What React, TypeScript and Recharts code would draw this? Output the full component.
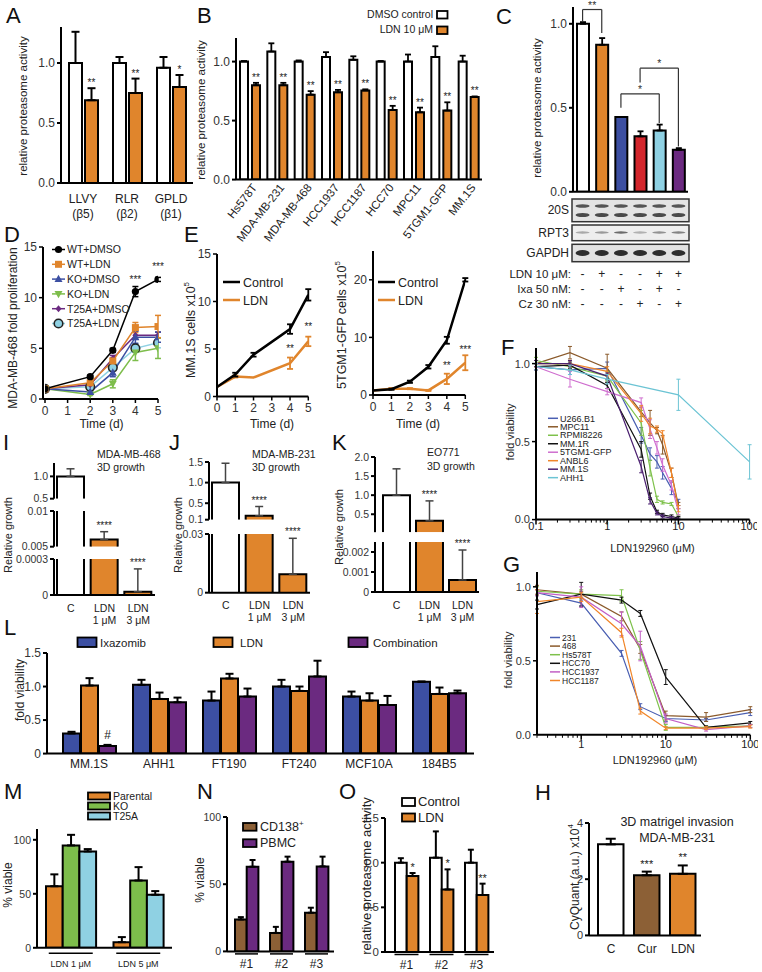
import React from "react";
import {
  BarChart,
  Bar,
  LineChart,
  Line,
  XAxis,
  YAxis,
  ErrorBar,
  LabelList,
  Cell,
  ReferenceLine,
} from "recharts";

const FONT = '"Liberation Sans", Arial, Helvetica, sans-serif';
const INK = "#222";
const ORANGE = "#e0852c";
const BLUE = "#3c4fa2";
const PURPLE = "#6b2a80";
const GREEN = "#7dbd4b";
const LBLUE = "#8fd1e3";
const BROWN = "#8c6036";
const RED = "#d3262c";
const AX = { stroke: "#000", strokeWidth: 2 };

// ---------- A ----------
const A_CATS = ["LLVY", "RLR", "GPLD"];
const A_SUB = ["(β5)", "(β2)", "(β1)"];
const A_DMSO = [1.0, 1.0, 0.96];
const A_DMSO_ERR = [0.26, 0.05, 0.09];
const A_LDN = [0.69, 0.75, 0.8];
const A_LDN_ERR = [0.1, 0.12, 0.1];
const A_SIG = ["**", "**", "*"];

// ---------- B ----------
const B_CATS = ["Hs578T", "MDA-MB-231", "MDA-MB-468", "HCC1937", "HCC1187", "HCC70", "MPC11", "5TGM1-GFP", "MM.1S"];
const B_DMSO = [1.0, 1.085, 1.0, 1.04, 1.015, 1.0, 1.0, 1.04, 1.0];
const B_DMSO_ERR = [0.005, 0.07, 0.01, 0.04, 0.03, 0.005, 0.06, 0.09, 0.05];
const B_LDN = [0.8, 0.8, 0.72, 0.74, 0.755, 0.59, 0.57, 0.585, 0.7];
const B_LDN_ERR = [0.02, 0.02, 0.03, 0.02, 0.01, 0.035, 0.04, 0.07, 0.005];
const B_SIG = ["**", "**", "**", "**", "**", "**", "**", "**", "**"];

// ---------- C ----------
const C_CATS = ["Ctrl", "LDN", "Ixa", "Cz", "LDN+Ixa", "LDN+Cz"];
const C_VALS = [1.0, 0.875, 0.445, 0.33, 0.365, 0.25];
const C_ERR = [0.01, 0.04, 0, 0.03, 0.035, 0.01];
const C_COLORS = ["#ffffff", ORANGE, BLUE, RED, LBLUE, PURPLE];
const C_LDN = ["-", "+", "-", "-", "+", "+"];
const C_IXA = ["-", "-", "+", "-", "+", "-"];
const C_CZ = ["-", "-", "-", "+", "-", "+"];
const C_BRACKETS = [
  { a: "Ctrl", b: "LDN", y: 1.085, ya: 1.01, yb: 0.945, sig: "**" },
  { a: "Cz", b: "LDN+Cz", y: 0.736, ya: 0.65, yb: 0.27, sig: "*" },
  { a: "Ixa", b: "LDN+Ixa", y: 0.583, ya: 0.5, yb: 0.41, sig: "*" },
];

// ---------- D ----------
const D_DAYS = [0, 2, 3, 4, 5];
const D_NAMES = ["WT+DMSO", "WT+LDN", "KO+DMSO", "KO+LDN", "T25A+DMSO", "T25A+LDN"];
const D_WT_DMSO = [1.0, 2.2, 4.8, 10.6, 11.8];
const D_WT_DMSO_ERR = [0, 0.15, 0.2, 0.5, 0.2];
const D_WT_LDN = [1.0, 1.6, 3.75, 7.05, 7.15];
const D_WT_LDN_ERR = [0, 0.2, 0.3, 0.5, 1.1];
const D_KO_DMSO = [1.0, 0.7, 2.6, 6.1, 6.1];
const D_KO_DMSO_ERR = [0, 0.1, 0.4, 0.6, 0.5];
const D_KO_LDN = [1.0, 0.45, 1.5, 4.6, 5.0];
const D_KO_LDN_ERR = [0, 0.1, 0.4, 0.8, 1.0];
const D_T25A_DMSO = [1.0, 1.4, 4.0, 6.3, 6.3];
const D_T25A_DMSO_ERR = [0, 0.1, 0.3, 0.4, 0.3];
const D_T25A_LDN = [1.0, 1.2, 3.1, 5.0, 5.55];
const D_T25A_LDN_ERR = [0, 0.1, 0.2, 0.4, 0.5];
const D_SIG = ["", "", "", "***", "***"];

// ---------- E ----------
const E1_DAYS = [0, 1, 2, 4, 5];
const E1_CTRL = [1.0, 2.3, 4.4, 7.1, 10.7];
const E1_CTRL_ERR = [0, 0.2, 0.2, 0.5, 0.6];
const E1_LDN = [1.0, 2.1, 2.0, 3.5, 5.8];
const E1_LDN_ERR = [0, 0.1, 0, 0.6, 0.5];
const E1_SIG = ["", "", "", "**", "**"];
const E2_DAYS = [0, 1, 2, 3, 4, 5];
const E2_CTRL = [0.8, 1.0, 2.3, 4.9, 9.5, 20.0];
const E2_CTRL_ERR = [0, 0.1, 0.2, 0.3, 0.6, 0.3];
const E2_LDN = [0.8, 1.1, 1.1, 0.8, 2.8, 5.6];
const E2_LDN_ERR = [0, 0.1, 0.1, 0.1, 0.9, 1.3];
const E2_SIG = ["", "", "", "", "**", "***"];

// ---------- F ----------
const F_DOSES = [0.1, 0.3, 1, 3, 4, 5, 6, 8, 10, 100];
const F_NAMES = ["U266.B1", "MPC11", "RPMI8226", "MM.1R", "5TGM1-GFP", "ANBL6", "MM.1S", "AHH1"];
const F_U266 = [0.98, 0.96, 0.97, 0.54, 0.42, 0.37, 0.3, 0.2, 0.11, null];
const F_U266_ERR = [0.02, 0.03, 0.04, 0.05, 0.04, 0.04, 0.04, 0.04, 0.02, null];
const F_MPC11 = [1.0, 1.07, 0.97, 0.69, 0.62, 0.57, 0.48, 0.3, 0.09, null];
const F_MPC11_ERR = [0.02, 0.04, 0.09, 0.03, 0.08, 0.02, 0.06, 0.03, 0.02, null];
const F_RPMI = [1.02, 0.98, 0.92, 0.62, 0.33, 0.13, 0.11, 0.1, 0.02, null];
const F_RPMI_ERR = [0.02, 0.02, 0.03, 0.08, 0.05, 0.02, 0.01, 0.01, 0.01, null];
const F_MM1R = [0.98, 0.99, 0.86, 0.45, 0.15, 0.05, 0.03, 0.02, 0.01, null];
const F_MM1R_ERR = [0.02, 0.02, 0.02, 0.05, 0.02, 0.01, 0.01, 0.01, 0.01, null];
const F_5TGM1 = [0.98, 0.9, 0.82, 0.75, 0.58, 0.46, 0.35, 0.22, 0.05, null];
const F_5TGM1_ERR = [0.02, 0.05, 0.02, 0.03, 0.06, 0.04, 0.04, 0.03, 0.02, null];
const F_ANBL6 = [1.0, 1.0, 0.95, 0.68, 0.6, 0.58, 0.55, 0.3, 0.07, null];
const F_ANBL6_ERR = [0.02, 0.02, 0.03, 0.05, 0.05, 0.02, 0.02, 0.03, 0.02, null];
const F_MM1S = [1.0, 1.0, 0.92, 0.34, 0.12, 0.04, 0.02, 0.01, 0.005, null];
const F_MM1S_ERR = [0.02, 0.02, 0.02, 0.04, 0.02, 0.01, 0.01, 0.01, 0.005, null];
const F_AHH1 = [0.98, 0.96, 0.9, null, null, null, null, null, 0.8, 0.37];
const F_AHH1_ERR = [0.02, 0.03, 0.03, null, null, null, null, null, 0.1, 0.11];

// ---------- G ----------
const G_DOSES = [0.3, 1, 3, 5, 10, 30, 100];
const G_NAMES = ["231", "468", "Hs578T", "HCC70", "HCC1937", "HCC1187"];
const G_231 = [0.96, 0.89, 0.55, 0.19, 0.11, 0.1, 0.15];
const G_231_ERR = [0.02, 0.02, 0.02, 0.02, 0.02, 0.01, 0.02];
const G_468 = [0.98, 0.95, 0.8, 0.58, 0.13, 0.12, 0.17];
const G_468_ERR = [0.03, 0.02, 0.03, 0.03, 0.03, 0.03, 0.02];
const G_HS578T = [0.97, 0.95, 0.94, 0.57, 0.05, 0.05, 0.06];
const G_HS578T_ERR = [0.03, 0.03, 0.04, 0.06, 0.02, 0.01, 0.01];
const G_HCC70 = [0.88, 0.95, 0.91, 0.82, 0.39, 0.05, 0.08];
const G_HCC70_ERR = [0.03, 0.08, 0.02, 0.02, 0.05, 0.01, 0.01];
const G_HCC1937 = [0.96, 0.93, 0.75, 0.6, 0.11, 0.035, 0.06];
const G_HCC1937_ERR = [0.02, 0.07, 0.08, 0.1, 0.03, 0.01, 0.01];
const G_HCC1187 = [0.9, 0.93, 0.69, 0.16, 0.045, 0.045, 0.055];
const G_HCC1187_ERR = [0.08, 0.03, 0.03, 0.02, 0.01, 0.01, 0.01];

// ---------- I / J / K (3D growth, broken axes) ----------
const IJK_CATS = ["C", "LDN 1 μM", "LDN 3 μM"];
const IJK_COLORS = ["#ffffff", ORANGE, ORANGE];
const IJK_SIG = ["", "****", "****"];
const I_VALS = [1.0, 0.006, 0.0000275];
const I_ERR = [0.17, 0.0011, 0.00019];
const J_VALS = [1.0, 0.195, 0.0094];
const J_ERR = [0.47, 0.225, 0.0184];
const K_VALS = [1.0, 0.33, 0.0006];
const K_ERR = [0.69, 0.52, 0.0015];

// ---------- L ----------
const L_CATS = ["MM.1S", "AHH1", "FT190", "FT240", "MCF10A", "184B5"];
const L_IXA = [0.3, 1.025, 0.79, 1.0, 0.85, 1.07];
const L_IXA_ERR = [0.025, 0.075, 0.135, 0.1, 0.075, 0.005];
const L_LDN = [1.015, 0.815, 1.12, 0.935, 0.79, 0.89];
const L_LDN_ERR = [0.11, 0.095, 0.07, 0.065, 0.11, 0.095];
const L_COMBO = [0.115, 0.765, 0.85, 1.15, 0.725, 0.9];
const L_COMBO_ERR = [0.015, 0.07, 0.12, 0.235, 0.135, 0.04];
const L_SIG = ["#", "", "", "", "", ""];

// ---------- M ----------
const M_CATS = ["LDN 1 μM", "LDN 5 μM"];
const M_PARENTAL = [57, 5.2];
const M_PARENTAL_ERR = [11, 4.7];
const M_KO = [94.8, 62.3];
const M_KO_ERR = [9.8, 12.4];
const M_T25A = [89.2, 49.1];
const M_T25A_ERR = [2.2, 3.4];

// ---------- N ----------
const N_CATS = ["#1", "#2", "#3"];
const N_CD138 = [23.75, 13.75, 28.75];
const N_CD138_ERR = [1.75, 4.5, 3.75];
const N_PBMC = [63, 66.75, 63.25];
const N_PBMC_ERR = [5, 3.75, 7.25];

// ---------- O ----------
const O_CATS = ["#1", "#2", "#3"];
const O_CTRL = [1.0, 1.056, 1.0];
const O_CTRL_ERR = [0.05, 0.294, 0.145];
const O_LDN = [0.85, 0.7, 0.638];
const O_LDN_ERR = [0.034, 0.225, 0.127];
const O_SIG = ["*", "*", "**"];

// ---------- H ----------
const H_CATS = ["C", "Cur", "LDN"];
const H_VALS = [3.24, 2.14, 2.19];
const H_ERR = [0.2, 0.13, 0.3];
const H_COLORS = ["#ffffff", BROWN, ORANGE];
const H_SIG = ["", "***", "**"];

// ---------- helpers ----------
const up = (e: number | null | undefined) => (e ? [0, e] : undefined);
const f1 = (v: number) => v.toFixed(1);
const f1z = (v: number) => (v === 0 ? "0" : v.toFixed(1));
const plain = (v: number) => String(v);

function frame(x0: number, x1: number, y0: number, y1: number, W: number, H: number, mt: number, mr: number, mb = 0) {
  return {
    style: { position: "absolute", left: x0 - W, top: y0 - mt } as React.CSSProperties,
    width: x1 - x0 + W + mr,
    height: y1 - y0 + mt + H + mb,
    margin: { top: mt, right: mr, bottom: mb, left: 0 },
  };
}

function sigContent(valueKey: string, errKey: string | undefined, sigKey: string, dmin: number, fs: number, gap: number) {
  return (props: any) => {
    const p = props.value;
    if (!p || typeof p !== "object" || !p[sigKey]) return null;
    const vb = props.viewBox && props.viewBox.width != null ? props.viewBox : props;
    let y = Number(vb.y);
    let h = Number(vb.height);
    const x = Number(vb.x);
    const w = Number(vb.width);
    if (h < 0) {
      y += h;
      h = -h;
    }
    const v = p[valueKey];
    const e = errKey && p[errKey] ? p[errKey][1] : 0;
    const ppu = v - dmin > 0 ? h / (v - dmin) : 0;
    return (
      <text x={x + w / 2} y={y - e * ppu - gap} textAnchor="middle" fontSize={fs} fill={INK}>
        {p[sigKey]}
      </text>
    );
  };
}

const lineSig = (off: number) => (props: any) => {
  const p = props.value;
  if (!p || typeof p !== "object" || !p.sig) return null;
  const vb = props.viewBox || {};
  const x = vb.x ?? props.x;
  const y = vb.y ?? props.y;
  return (
    <text x={x} y={y - off} textAnchor="middle" fontSize={10} fill={INK}>
      {p.sig}
    </text>
  );
};

// bar outline without the bottom edge, for the broken axes
const OpenBar = (props: any) => {
  const { x, y, width: w, height: h, fill } = props;
  if (!(h > 0)) return <g />;
  return (
    <g>
      <rect x={x} y={y} width={w} height={h} fill={fill} />
      <path d={`M${x},${y + h}V${y}H${x + w}V${y + h}`} fill="none" stroke="#000" strokeWidth={2} />
    </g>
  );
};

function marker(kind: string, color: string, cx: number, cy: number) {
  switch (kind) {
    case "square":
      return <rect x={cx - 3.5} y={cy - 3.5} width={7} height={7} fill={color} />;
    case "tri":
      return <path d={`M${cx},${cy - 4.3}L${cx + 4},${cy + 3}L${cx - 4},${cy + 3}Z`} fill={color} />;
    case "itri":
      return <path d={`M${cx},${cy + 4.3}L${cx + 4},${cy - 3}L${cx - 4},${cy - 3}Z`} fill={color} />;
    case "diamond":
      return <path d={`M${cx},${cy - 3.5}L${cx + 3},${cy}L${cx},${cy + 3.5}L${cx - 3},${cy}Z`} fill={color} />;
    case "ring":
      return <circle cx={cx} cy={cy} r={4.3} fill={color} stroke="#222" strokeWidth={1.6} />;
    default:
      return <circle cx={cx} cy={cy} r={3.6} fill={color} />;
  }
}
const dotFn = (kind: string, color: string) => (props: any) => {
  const { cx, cy, index } = props;
  if (cx == null || cy == null) return <g key={index} />;
  return <g key={index}>{marker(kind, color, cx, cy)}</g>;
};

// ---------- ticks ----------
const twoLineTick = (subs: Record<string, string>, d1: number, d2: number, fs: number) => (props: any) => {
  const { x, y, payload } = props;
  const v = String(payload.value);
  return (
    <g>
      <text x={x} y={y + d1} textAnchor="middle" fontSize={fs} fill={INK}>{v}</text>
      {subs[v] ? <text x={x} y={y + d2} textAnchor="middle" fontSize={fs} fill={INK}>{subs[v]}</text> : null}
    </g>
  );
};
const splitTick = (d1: number, d2: number, fs: number) => (props: any) => {
  const { x, y, payload } = props;
  const parts = String(payload.value).split(" ");
  return (
    <g>
      <text x={x} y={y + d1} textAnchor="middle" fontSize={fs} fill={INK}>{parts[0]}</text>
      {parts.length > 1 ? (
        <text x={x} y={y + d2} textAnchor="middle" fontSize={fs} fill={INK}>{parts.slice(1).join(" ")}</text>
      ) : null}
    </g>
  );
};
const rotTick = (props: any) => {
  const { x, y, payload } = props;
  return (
    <text transform={`translate(${x + 8},${y + 8}) rotate(-52)`} textAnchor="end" fontSize={11.5} fill={INK}>
      {payload.value}
    </text>
  );
};
const underTick = (half: number, lineDy: number, textDy: number, fs: number) => (props: any) => {
  const { x, y, payload } = props;
  return (
    <g>
      <line x1={x - half} x2={x + half} y1={y + lineDy} y2={y + lineDy} stroke="#000" strokeWidth={1.5} />
      <text x={x} y={y + textDy} textAnchor="middle" fontSize={fs} fill={INK}>{payload.value}</text>
    </g>
  );
};
const plainTick = (dy: number, fs: number) => (props: any) => {
  const { x, y, payload } = props;
  return <text x={x} y={y + dy} textAnchor="middle" fontSize={fs} fill={INK}>{payload.value}</text>;
};
const logTick = (labelDy: number) => (props: any) => {
  const { x, y, payload } = props;
  const v = payload.value;
  const lg = Math.log10(v);
  const major = Math.abs(lg - Math.round(lg)) < 1e-6;
  const ay = y - 8;
  return (
    <g>
      <line x1={x} x2={x} y1={ay} y2={ay + (major ? 5 : 3)} stroke="#000" strokeWidth={major ? 1.5 : 1} />
      {major ? <text x={x} y={ay + labelDy} textAnchor="middle" fontSize={11} fill={INK}>{v}</text> : null}
    </g>
  );
};
const logTicks = (from: number) => {
  const out: number[] = [];
  [0.1, 1, 10].forEach((dec) => {
    for (let k = 1; k <= 9; k++) {
      const t = +(dec * k).toPrecision(3);
      if (t >= from - 1e-9) out.push(t);
    }
  });
  out.push(100);
  return out;
};

// ---------- generic panels ----------
function BarPanel(p: any) {
  const {
    data, series, x0, x1, y0, y1, domain, ticks, fmt = f1, W = 36, H = 24, mt = 8, mr = 6, mb = 0, padLeft = 0,
    barSize, barGap = 0, xTick, xMode = "tick", open = false, tickFs = 12, errW = 4, errSW = 2,
    errStroke = "#000", sigFs = 10, sigGap = 2, children,
  } = p;
  const hh = xMode === "hide" ? 0 : H;
  const f = frame(x0, x1, y0, y1, W, hh, mt, mr, mb);
  const pad = { left: padLeft, right: 0 };
  return (
    <div style={f.style}>
      <BarChart width={f.width} height={f.height} margin={f.margin} data={data} barGap={barGap}>
        {xMode === "hide" ? (
          <XAxis dataKey="name" hide height={0} padding={pad} />
        ) : xMode === "line" ? (
          <XAxis dataKey="name" height={hh} tick={false} tickLine={false} axisLine={AX} padding={pad} />
        ) : (
          <XAxis dataKey="name" height={hh} axisLine={AX} tickLine={false} tickSize={0} tickMargin={0}
            interval={0} tick={xTick} padding={pad} />
        )}
        <YAxis width={W} domain={domain} ticks={ticks} tickFormatter={fmt} allowDataOverflow interval={0}
          axisLine={AX} tickLine={AX} tickSize={4} tickMargin={2}
          tick={{ fontSize: tickFs, fill: "#333", fontFamily: FONT }} />
        {series.map((s: any) => (
          <Bar key={s.key} dataKey={s.key} fill={s.fill} stroke="#000" strokeWidth={2} barSize={barSize}
            isAnimationActive={false} shape={open ? OpenBar : undefined}>
            {s.cells ? data.map((_: any, i: number) => <Cell key={i} fill={s.cells[i]} />) : null}
            {s.err ? <ErrorBar dataKey={s.err} width={errW} strokeWidth={errSW} stroke={errStroke} direction="y" /> : null}
            {s.sig ? (
              <LabelList dataKey={(d: any) => d}
                content={sigContent(s.key, s.err, s.sig, domain[0], s.sigFs || sigFs, s.sigGap ?? sigGap)} />
            ) : null}
          </Bar>
        ))}
        {children}
      </BarChart>
    </div>
  );
}

function LinePanel(p: any) {
  const {
    series, x0, x1, y0, y1, xDomain, xTicks, yDomain, yTicks, yFmt = plain, log = false, W = 30, H = 26,
    mt = 6, mr = 8, padLeft = 0, tickFs = 12, xTick, errW = 3,
  } = p;
  const f = frame(x0, x1, y0, y1, W, H, mt, mr);
  const xProps = xTick
    ? { tick: xTick, tickLine: false, tickSize: 6, tickMargin: 2 }
    : { tickLine: { stroke: "#000", strokeWidth: 1.5 }, tickSize: 4, tickMargin: 3, tick: { fontSize: tickFs, fill: "#333" } };
  return (
    <div style={f.style}>
      <LineChart width={f.width} height={f.height} margin={f.margin}>
        <XAxis dataKey="x" type="number" scale={log ? "log" : "auto"} domain={xDomain} ticks={xTicks}
          allowDataOverflow interval={0} height={H} axisLine={AX} padding={{ left: padLeft, right: 0 }} {...xProps} />
        <YAxis width={W} domain={yDomain} ticks={yTicks} tickFormatter={yFmt} interval={0} allowDataOverflow
          axisLine={AX} tickLine={{ stroke: "#000", strokeWidth: 1.5 }} tickSize={4} tickMargin={2}
          tick={{ fontSize: tickFs, fill: "#333" }} />
        {series.map((s: any) => (
          <Line key={s.name} name={s.name} data={s.data} dataKey="v" stroke={s.color} strokeWidth={s.width}
            dot={s.dot || false} activeDot={false} isAnimationActive={false} connectNulls>
            <ErrorBar dataKey="e" width={errW} strokeWidth={s.errSW || 1.2} stroke={s.color} direction="y" />
            {s.sig ? <LabelList dataKey={(d: any) => d} content={lineSig(s.sigOff || 10)} /> : null}
          </Line>
        ))}
      </LineChart>
    </div>
  );
}

const pts = (xs: number[], vs: (number | null)[], es: (number | null)[], sig?: string[]) =>
  xs
    .map((x, i) => ({ x, v: vs[i], e: es[i] || undefined, sig: sig ? sig[i] : "" }))
    .filter((d) => d.v != null);

function segData(vals: number[], errs: number[], dom: number[]) {
  return IJK_CATS.map((name, i) => {
    const inside = vals[i] >= dom[0] && vals[i] <= dom[1];
    return { name, v: vals[i], e: inside ? up(errs[i]) : undefined, sig: inside ? IJK_SIG[i] : "" };
  });
}

function BrokenPanel({ vals, errs, segs, x0, x1, padLeft }: any) {
  return (
    <>
      {segs.map((s: any, k: number) => {
        const last = k === segs.length - 1;
        return (
          <BarPanel key={k} data={segData(vals, errs, s.dom)}
            series={[{ key: "v", err: "e", fill: "#fff", cells: IJK_COLORS, sig: "sig" }]}
            x0={x0} x1={x1} y0={s.y0} y1={s.y1} domain={s.dom} ticks={s.ticks} fmt={s.fmt}
            W={40} H={36} mt={14} mr={4} mb={last ? 0 : 7} padLeft={padLeft} barSize={27}
            xMode={last ? "tick" : "hide"} xTick={splitTick(16.8, 28.8, 10.5)} open
            tickFs={10.5} errW={4} errSW={1.5} errStroke="#444" sigFs={10} sigGap={3} />
        );
      })}
    </>
  );
}

// ---------- overlay helpers ----------
const T = ({ x, y, s = 12, a = "start", c = INK, children }: any) => (
  <text x={x} y={y} fontSize={s} textAnchor={a} fill={c}>{children}</text>
);
const R = ({ x, y, s = 12, children }: any) => (
  <text transform={`translate(${x},${y}) rotate(-90)`} fontSize={s} textAnchor="middle" dominantBaseline="central" fill={INK}>
    {children}
  </text>
);
const Sw = ({ x, y, w, h, fill }: any) => <rect x={x} y={y} width={w} height={h} fill={fill} stroke="#000" strokeWidth={1.8} />;

// ---------- layout constants ----------
const C_X0 = 573;
const C_X1 = 688;

export default function App() {
  const aData = A_CATS.map((name, i) => ({
    name, dmso: A_DMSO[i], dmsoE: up(A_DMSO_ERR[i]), ldn: A_LDN[i], ldnE: up(A_LDN_ERR[i]), sig: A_SIG[i],
  }));
  const aSubs: Record<string, string> = {};
  A_CATS.forEach((c, i) => (aSubs[c] = A_SUB[i]));
  const bData = B_CATS.map((name, i) => ({
    name, dmso: B_DMSO[i], dmsoE: up(B_DMSO_ERR[i]), ldn: B_LDN[i], ldnE: up(B_LDN_ERR[i]), sig: B_SIG[i],
  }));
  const cData = C_CATS.map((name, i) => ({ name, v: C_VALS[i], e: up(C_ERR[i]) }));
  const lData = L_CATS.map((name, i) => ({
    name, ixa: L_IXA[i], ixaE: up(L_IXA_ERR[i]), ldn: L_LDN[i], ldnE: up(L_LDN_ERR[i]),
    combo: L_COMBO[i], comboE: up(L_COMBO_ERR[i]), sig: L_SIG[i],
  }));
  const mData = M_CATS.map((name, i) => ({
    name, par: M_PARENTAL[i], parE: up(M_PARENTAL_ERR[i]), ko: M_KO[i], koE: up(M_KO_ERR[i]),
    t25: M_T25A[i], t25E: up(M_T25A_ERR[i]),
  }));
  const nData = N_CATS.map((name, i) => ({
    name, cd: N_CD138[i], cdE: up(N_CD138_ERR[i]), pb: N_PBMC[i], pbE: up(N_PBMC_ERR[i]),
  }));
  const oData = O_CATS.map((name, i) => ({
    name, c: O_CTRL[i], cE: up(O_CTRL_ERR[i]), l: O_LDN[i], lE: up(O_LDN_ERR[i]), sig: O_SIG[i],
  }));
  const hData = H_CATS.map((name, i) => ({ name, v: H_VALS[i], e: up(H_ERR[i]), sig: H_SIG[i] }));

  const dStyle = [
    { color: "#000", kind: "circle" },
    { color: ORANGE, kind: "square" },
    { color: BLUE, kind: "tri" },
    { color: GREEN, kind: "itri" },
    { color: PURPLE, kind: "diamond" },
    { color: LBLUE, kind: "ring" },
  ];
  const dVals = [
    [D_WT_DMSO, D_WT_DMSO_ERR], [D_WT_LDN, D_WT_LDN_ERR], [D_KO_DMSO, D_KO_DMSO_ERR],
    [D_KO_LDN, D_KO_LDN_ERR], [D_T25A_DMSO, D_T25A_DMSO_ERR], [D_T25A_LDN, D_T25A_LDN_ERR],
  ];
  const dSeries = D_NAMES.map((name, i) => ({
    name, color: dStyle[i].color, width: 1.5, dot: dotFn(dStyle[i].kind, dStyle[i].color), errSW: 1.5,
    data: pts(D_DAYS, dVals[i][0], dVals[i][1], i === 0 ? D_SIG : undefined), sig: i === 0, sigOff: 9,
  })).reverse();

  const e1Series = [
    { name: "LDN", color: ORANGE, width: 2.5, errSW: 1.8, data: pts(E1_DAYS, E1_LDN, E1_LDN_ERR, E1_SIG), sig: true, sigOff: 11 },
    { name: "Control", color: "#000", width: 2.5, errSW: 1.8, data: pts(E1_DAYS, E1_CTRL, E1_CTRL_ERR) },
  ];
  const e2Series = [
    { name: "LDN", color: ORANGE, width: 2.5, errSW: 1.8, data: pts(E2_DAYS, E2_LDN, E2_LDN_ERR, E2_SIG), sig: true, sigOff: 10 },
    { name: "Control", color: "#000", width: 2.5, errSW: 1.8, data: pts(E2_DAYS, E2_CTRL, E2_CTRL_ERR) },
  ];

  const fColors = ["#4a5fb2", "#8b5a2b", "#7ec14b", "#111111", "#cf6ecf", "#f0862a", "#4b2070", "#6cc4d4"];
  const fVals = [
    [F_U266, F_U266_ERR], [F_MPC11, F_MPC11_ERR], [F_RPMI, F_RPMI_ERR], [F_MM1R, F_MM1R_ERR],
    [F_5TGM1, F_5TGM1_ERR], [F_ANBL6, F_ANBL6_ERR], [F_MM1S, F_MM1S_ERR], [F_AHH1, F_AHH1_ERR],
  ];
  const fSeries = F_NAMES.map((name, i) => ({
    name, color: fColors[i], width: 1.2, errSW: 1, data: pts(F_DOSES, fVals[i][0] as any, fVals[i][1] as any),
  }));
  const gColors = ["#4a5fb2", "#8b5a2b", "#7ec14b", "#111111", "#c25fc5", "#f0862a"];
  const gVals = [
    [G_231, G_231_ERR], [G_468, G_468_ERR], [G_HS578T, G_HS578T_ERR], [G_HCC70, G_HCC70_ERR],
    [G_HCC1937, G_HCC1937_ERR], [G_HCC1187, G_HCC1187_ERR],
  ];
  const gSeries = G_NAMES.map((name, i) => ({
    name, color: gColors[i], width: 1.2, errSW: 1, data: pts(G_DOSES, gVals[i][0], gVals[i][1]),
  }));

  const cBand = (C_X1 - C_X0) / C_CATS.length;
  const cCx = (i: number) => C_X0 + (i + 0.5) * cBand;
  const rpt3 = [0.45, 0.55, 0.85, 0.4, 0.6, 0.7];

  return (
    <div style={{ position: "absolute", left: 0, top: 0, width: 762, height: 972, background: "#fff", fontFamily: FONT, overflow: "hidden" }}>
      {/* A */}
      <BarPanel data={aData} x0={61} x1={193} y0={27} y1={183} domain={[0, 1.3]} ticks={[0, 0.5, 1]} W={36} H={42}
        barSize={13} barGap={3} xTick={twoLineTick(aSubs, 19.7, 35, 12)} errW={4}
        series={[{ key: "dmso", err: "dmsoE", fill: "#fff" }, { key: "ldn", err: "ldnE", fill: ORANGE, sig: "sig" }]} />
      {/* B */}
      <BarPanel data={bData} x0={236} x1={482} y0={38.4} y1={180} domain={[0, 1.2]} ticks={[0, 0.5, 1]} W={36} H={80}
        barSize={8} barGap={4} xTick={rotTick} errW={3} errSW={1.8}
        series={[{ key: "dmso", err: "dmsoE", fill: "#fff" }, { key: "ldn", err: "ldnE", fill: ORANGE, sig: "sig" }]} />
      {/* C */}
      <BarPanel data={cData} x0={C_X0} x1={C_X1} y0={7.2} y1={192} domain={[0, 1.1]} ticks={[0, 0.5, 1]} W={36} H={8}
        mt={9} xMode="line" barSize={12} errW={3} errSW={1.8}
        series={[{ key: "v", err: "e", fill: "#fff", cells: C_COLORS }]}>
        {C_BRACKETS.map((b, i) => [
          <ReferenceLine key={`a${i}`} segment={[{ x: b.a, y: b.ya }, { x: b.a, y: b.y }]} stroke="#333" strokeWidth={1.2} ifOverflow="visible" position="middle" />,
          <ReferenceLine key={`h${i}`} segment={[{ x: b.a, y: b.y }, { x: b.b, y: b.y }]} stroke="#333" strokeWidth={1.2} ifOverflow="visible" position="middle"
            label={{ value: b.sig, position: "top", fontSize: 10.5, fill: "#333", offset: 1 }} />,
          <ReferenceLine key={`b${i}`} segment={[{ x: b.b, y: b.y }, { x: b.b, y: b.yb }]} stroke="#333" strokeWidth={1.2} ifOverflow="visible" position="middle" />,
        ])}
      </BarPanel>
      {/* D */}
      <LinePanel series={dSeries} x0={43} x1={158} y0={247} y1={399} padLeft={2} xDomain={[0, 5]} xTicks={[0, 1, 2, 3, 4, 5]}
        yDomain={[0, 15]} yTicks={[0, 5, 10, 15]} W={30} H={26} errW={3} />
      {/* E */}
      <LinePanel series={e1Series} x0={216.7} x1={308} y0={254} y1={396.5} xDomain={[0, 5]} xTicks={[0, 1, 2, 3, 4, 5]}
        yDomain={[0, 15]} yTicks={[0, 5, 10, 15]} W={30} H={26} errW={3} />
      <LinePanel series={e2Series} x0={372.7} x1={465} y0={251} y1={395} xDomain={[0, 5]} xTicks={[0, 1, 2, 3, 4, 5]}
        yDomain={[0, 25]} yTicks={[0, 10, 20]} W={30} H={26} errW={3} />
      {/* F */}
      <LinePanel series={fSeries} x0={535.7} x1={749.3} y0={348.4} y1={520} log xDomain={[0.1, 100]} xTicks={logTicks(0.1)}
        xTick={logTick(10.5)} yDomain={[0, 1.1]} yTicks={[0, 0.5, 1]} yFmt={f1} W={30} H={24} tickFs={11} errW={2} />
      {/* G */}
      <LinePanel series={gSeries} x0={536.7} x1={750} y0={572.2} y1={735} log xDomain={[0.3, 100]} xTicks={logTicks(0.3)}
        xTick={logTick(13)} yDomain={[0, 1.1]} yTicks={[0, 0.5, 1]} yFmt={f1} W={30} H={24} tickFs={11} errW={2} />
      {/* I J K */}
      <BrokenPanel vals={I_VALS} errs={I_ERR} x0={54} x1={155} padLeft={0}
        segs={[
          { y0: 463.3, y1: 499, dom: [0.5, 1.3], ticks: [0.5, 1], fmt: f1 },
          { y0: 511, y1: 546.7, dom: [0.005, 0.01], ticks: [0.005, 0.01], fmt: plain },
          { y0: 559, y1: 595, dom: [0, 0.0003], ticks: [0, 0.0003], fmt: plain },
        ]} />
      <BrokenPanel vals={J_VALS} errs={J_ERR} x0={209} x1={310} padLeft={0}
        segs={[
          { y0: 462.1, y1: 519.8, dom: [0.1, 1.5], ticks: [0.1, 0.5, 1, 1.5], fmt: (v: number) => (v === 0.1 ? "0.1" : f1(v)) },
          { y0: 534, y1: 592.7, dom: [0, 0.03], ticks: [0, 0.03], fmt: plain },
        ]} />
      <BrokenPanel vals={K_VALS} errs={K_ERR} x0={375} x1={479} padLeft={5}
        segs={[
          { y0: 456.7, y1: 531.9, dom: [0.03, 2], ticks: [0.5, 1, 1.5, 2], fmt: f1 },
          { y0: 541.7, y1: 591.7, dom: [0, 0.0025], ticks: [0, 0.001, 0.002], fmt: plain },
        ]} />
      {/* L */}
      <BarPanel data={lData} x0={47} x1={474} y0={652.7} y1={753.3} padLeft={7} domain={[0, 1.5]} ticks={[0, 0.5, 1, 1.5]}
        fmt={f1z} W={34} H={22} barSize={17} barGap={1} xTick={plainTick(14, 12)} errW={4}
        series={[
          { key: "ixa", err: "ixaE", fill: BLUE },
          { key: "ldn", err: "ldnE", fill: ORANGE },
          { key: "combo", err: "comboE", fill: PURPLE, sig: "sig", sigFs: 12, sigGap: 6 },
        ]} />
      {/* M */}
      <BarPanel data={mData} x0={37} x1={172} y0={828.5} y1={947.3} domain={[0, 110]} ticks={[0, 50, 100]} fmt={plain}
        W={30} H={24} barSize={16.7} barGap={0} xTick={underTick(22, 5.5, 19, 9)} tickFs={10.5} errW={4}
        series={[
          { key: "par", err: "parE", fill: ORANGE },
          { key: "ko", err: "koE", fill: GREEN },
          { key: "t25", err: "t25E", fill: LBLUE },
        ]} />
      {/* N */}
      <BarPanel data={nData} x0={227} x1={334} padLeft={2} y0={817.3} y1={951.7} domain={[0, 100]} ticks={[0, 50, 100]}
        fmt={plain} W={30} H={24} barSize={11.7} barGap={0} xTick={underTick(11.5, 2.5, 16.5, 12)} tickFs={10.5} errW={3}
        series={[{ key: "cd", err: "cdE", fill: BROWN }, { key: "pb", err: "pbE", fill: PURPLE }]} />
      {/* O */}
      <BarPanel data={oData} x0={385} x1={494} padLeft={4} y0={817.7} y1={951.7} domain={[0, 1.5]} ticks={[0, 0.5, 1, 1.5]}
        fmt={f1z} W={22} H={24} barSize={11.7} barGap={0} xTick={underTick(12, 2.5, 17, 12)} tickFs={11.5} errW={3}
        series={[{ key: "c", err: "cE", fill: "#fff" }, { key: "l", err: "lE", fill: ORANGE, sig: "sig", sigFs: 11, sigGap: 2 }]} />
      {/* H */}
      <BarPanel data={hData} x0={589} x1={701} padLeft={4} y0={822.6} y1={935} domain={[0, 4]} ticks={[0, 2, 4]} fmt={plain}
        W={26} H={24} barSize={25.5} xTick={plainTick(18, 12)} tickFs={11} errW={5}
        series={[{ key: "v", err: "e", fill: "#fff", cells: H_COLORS, sig: "sig", sigFs: 11, sigGap: 4 }]} />

      {/* overlay: panel letters, axis titles, legends, blot */}
      <svg width={762} height={972} style={{ position: "absolute", left: 0, top: 0, pointerEvents: "none" }} fontFamily={FONT}>
        {[
          ["A", 6, 23], ["B", 197, 23], ["C", 496, 23.5], ["D", 4, 241.5], ["E", 184, 241.5], ["F", 501, 355],
          ["G", 503, 572], ["I", 3, 450], ["J", 169, 450], ["K", 332, 450], ["L", 4, 635], ["M", 4, 799],
          ["N", 197, 799], ["O", 339, 799], ["H", 535, 800],
        ].map(([l, x, y]) => (
          <text key={l as string} x={x as number} y={y as number} fontSize={22} fill="#111">{l}</text>
        ))}

        <R x={23} y={106} s={11.5}>relative proteasome activity</R>
        <R x={201} y={110} s={11.5}>relative proteasome activity</R>
        <R x={537} y={108} s={11.5}>relative proteasome activity</R>
        <R x={13} y={328} s={12}>MDA-MB-468 fold proliferation</R>
        <R x={191} y={330} s={12.5}>MM.1S cells x10<tspan dy={-5} fontSize={8}>5</tspan></R>
        <R x={342} y={325} s={12.5}>5TGM1-GFP cells x10<tspan dy={-5} fontSize={8}>5</tspan></R>
        <R x={510} y={432} s={11}>fold viability</R>
        <R x={508} y={660} s={11}>fold viability</R>
        <R x={7.5} y={535} s={11}>Relative growth</R>
        <R x={177.5} y={535} s={11}>Relative growth</R>
        <R x={339} y={527} s={11}>Relative growth</R>
        <R x={20} y={690} s={12}>fold viability</R>
        <R x={8} y={885} s={12}>% viable</R>
        <R x={200} y={880} s={12}>% viable</R>
        <R x={366} y={876} s={13}>relative proteasome activity</R>
        <R x={575} y={877} s={12}>CyQuant (a.u.) x10<tspan dy={-5} fontSize={8}>4</tspan></R>

        <T x={101.5} y={428} a="middle">Time (d)</T>
        <T x={272} y={428} a="middle">Time (d)</T>
        <T x={418} y={428} a="middle">Time (d)</T>
        <T x={652.5} y={551.5} s={11} a="middle">LDN192960 (μM)</T>
        <T x={655} y={764} s={11} a="middle">LDN192960 (μM)</T>

        {/* B legend */}
        <T x={433} y={17.5} s={10.5} a="end">DMSO control</T>
        <Sw x={437} y={11} w={10.5} h={7.5} fill="#fff" />
        <T x={433} y={33} s={10.5} a="end">LDN 10 μM</T>
        <Sw x={437} y={26.5} w={10.5} h={7.5} fill={ORANGE} />

        {/* C blot and treatment rows */}
        {[
          { label: "20S", top: 199, h: 22.7, bg: "#e4e4e4", bands: [[7, 3.4, "#555"], [16, 4, "#4a4a4a"]] },
          { label: "RPT3", top: 225, h: 15.7, bg: "#eeeeee", bands: [[7.5, 2.4, "rpt"]] },
          { label: "GAPDH", top: 244.3, h: 17.4, bg: "#e2e2e2", bands: [[8.7, 6, "#2e2e2e"]] },
        ].map((b) => (
          <g key={b.label}>
            <rect x={572} y={b.top} width={117} height={b.h} fill={b.bg} stroke="#333" strokeWidth={1.5} />
            {C_CATS.map((_, i) =>
              b.bands.map(([dy, t, col], j) => (
                <ellipse key={`${i}-${j}`} cx={cCx(i)} cy={b.top + (dy as number)} rx={7} ry={(t as number) / 2}
                  fill={col === "rpt" ? "#555" : (col as string)} fillOpacity={col === "rpt" ? rpt3[i] : 1} />
              ))
            )}
            <T x={569} y={b.top + b.h / 2 + 4} s={12} a="end">{b.label}</T>
          </g>
        ))}
        {[
          ["LDN 10 μM:", C_LDN, 278],
          ["Ixa 50 nM:", C_IXA, 293],
          ["Cz 30 nM:", C_CZ, 308],
        ].map(([lab, signs, y]) => (
          <g key={lab as string}>
            <T x={571} y={y} s={11.5} a="end">{lab}</T>
            {(signs as string[]).map((sg, i) => (
              <T key={i} x={cCx(i)} y={y} s={12} a="middle">{sg}</T>
            ))}
          </g>
        ))}

        {/* D legend */}
        {D_NAMES.map((n, i) => {
          const y = 249.5 + i * 14.8;
          return (
            <g key={n}>
              <line x1={52} x2={65} y1={y} y2={y} stroke={dStyle[i].color} strokeWidth={1.5} />
              {marker(dStyle[i].kind, dStyle[i].color, 58.5, y)}
              <T x={67} y={y + 3.8} s={10.5}>{n}</T>
            </g>
          );
        })}

        {/* E legends */}
        {[[223, 240, 243], [378, 395, 398]].map(([a, b, t]) => (
          <g key={a}>
            <line x1={a} x2={b} y1={282} y2={282} stroke="#000" strokeWidth={2.5} />
            <T x={t} y={286.5} s={12.5}>Control</T>
            <line x1={a} x2={b} y1={300} y2={300} stroke={ORANGE} strokeWidth={2.5} />
            <T x={t} y={304.5} s={12.5}>LDN</T>
          </g>
        ))}

        {/* F legend */}
        {F_NAMES.map((n, i) => {
          const y = 418.3 + i * 8.48;
          return (
            <g key={n}>
              <line x1={548} x2={558} y1={y} y2={y} stroke={fColors[i]} strokeWidth={1.5} />
              <T x={560} y={y + 3.2} s={9}>{n}</T>
            </g>
          );
        })}
        {/* G legend */}
        {G_NAMES.map((n, i) => {
          const y = 637.5 + i * 8.6;
          return (
            <g key={n}>
              <line x1={550} x2={560} y1={y} y2={y} stroke={gColors[i]} strokeWidth={1.5} />
              <T x={562} y={y + 3} s={8.5}>{n}</T>
            </g>
          );
        })}

        {/* I J K titles */}
        <T x={97} y={458} s={10.5}>MDA-MB-468</T>
        <T x={97} y={471} s={10.5}>3D growth</T>
        <T x={252} y={458} s={10.5}>MDA-MB-231</T>
        <T x={252} y={471} s={10.5}>3D growth</T>
        <T x={427} y={456} s={10.5}>EO771</T>
        <T x={427} y={470} s={10.5}>3D growth</T>

        {/* L legend */}
        <Sw x={77.5} y={637.5} w={19} h={9.5} fill={BLUE} />
        <T x={100} y={646.5} s={11.5}>Ixazomib</T>
        <Sw x={213.5} y={637.5} w={19} h={9.5} fill={ORANGE} />
        <T x={240} y={646.5} s={11.5}>LDN</T>
        <Sw x={348.5} y={637.5} w={19} h={9.5} fill={PURPLE} />
        <T x={373} y={646.5} s={11.5}>Combination</T>

        {/* M legend */}
        <Sw x={88} y={792.5} w={22} h={7} fill={ORANGE} />
        <T x={113} y={800} s={10.5}>Parental</T>
        <Sw x={88} y={802.5} w={22} h={7} fill={GREEN} />
        <T x={113} y={810} s={10.5}>KO</T>
        <Sw x={88} y={812.5} w={22} h={7} fill={LBLUE} />
        <T x={113} y={820} s={10.5}>T25A</T>

        {/* N legend */}
        <Sw x={243} y={823} w={13.5} h={7.7} fill={BROWN} />
        <T x={260} y={831} s={12.5}>CD138<tspan dy={-5} fontSize={8}>+</tspan></T>
        <Sw x={243} y={839.3} w={13.5} h={7.7} fill={PURPLE} />
        <T x={260} y={847} s={12.5}>PBMC</T>

        {/* O legend */}
        <Sw x={402} y={798} w={13} h={8} fill="#fff" />
        <T x={418} y={806} s={13}>Control</T>
        <Sw x={402} y={813.5} w={13} h={8} fill={ORANGE} />
        <T x={418} y={821.5} s={13}>LDN</T>

        {/* H title */}
        <T x={677} y={826} s={12.5} a="middle">3D matrigel invasion</T>
        <T x={677} y={842} s={12.5} a="middle">MDA-MB-231</T>
      </svg>
    </div>
  );
}
